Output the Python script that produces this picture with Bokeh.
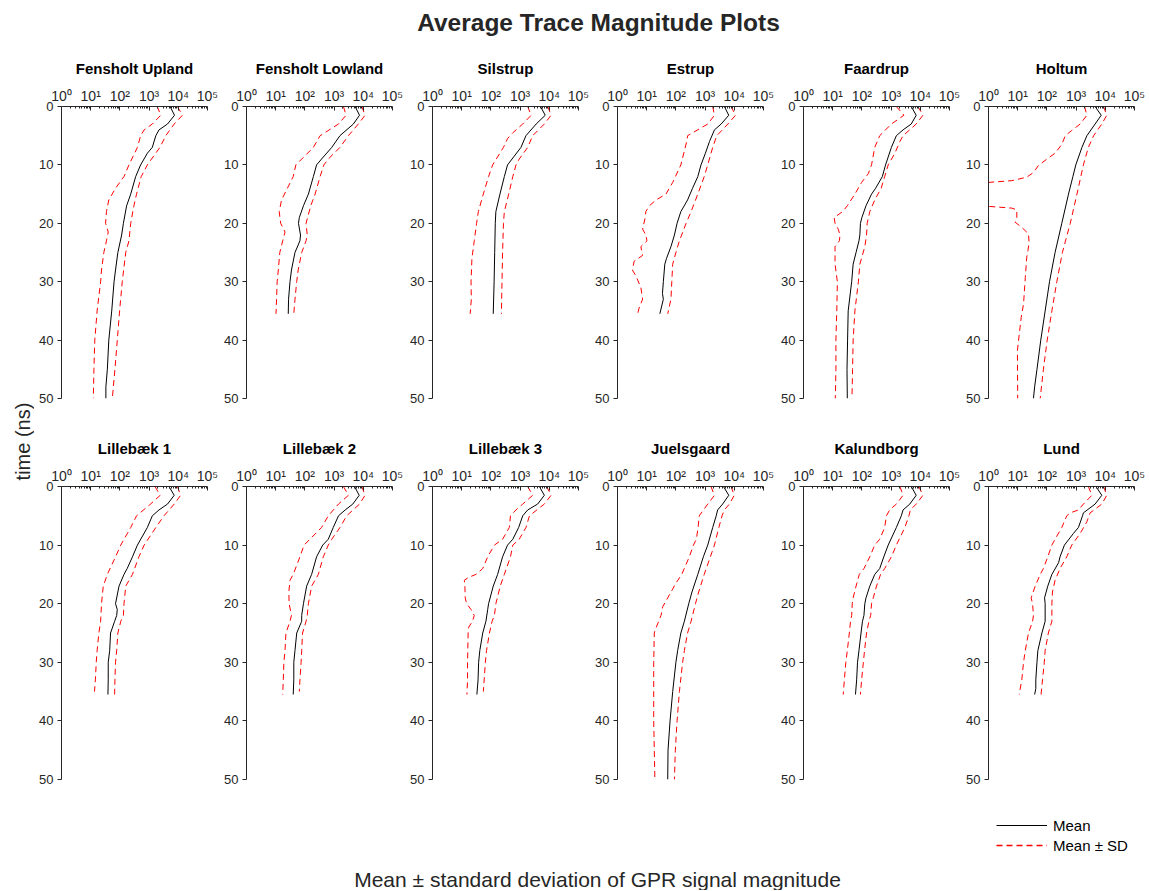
import numpy as np
from bokeh.plotting import figure
from bokeh.layouts import column, row
from bokeh.models import (Range1d, FixedTicker, CustomJSTickFormatter, Label,
                          Legend, LegendItem)
from bokeh.embed import file_html
from bokeh.resources import INLINE
from bokeh.core.validation import silence
from bokeh.core.validation.warnings import MISSING_RENDERERS

silence(MISSING_RENDERERS, True)

# ---------------------------------------------------------------- data
SITES = ["Fensholt Upland", "Fensholt Lowland", "Silstrup", "Estrup", "Faardrup", "Holtum",
         "Lillebæk 1", "Lillebæk 2", "Lillebæk 3", "Juelsgaard", "Kalundborg", "Lund"]

NAN = float("nan")

# time (ns) and log10(magnitude) of the mean curve
MEAN_T = [
    [0, 1.5, 3, 4, 5, 7, 8, 10, 12, 15, 17, 20, 22, 25, 28, 30, 35, 40, 45, 48, 50],
    [0, 1.5, 3, 5, 7, 9, 10, 12, 15, 17, 19, 20, 22, 23, 25, 28, 30, 33, 35.5],
    [0, 1.5, 3, 5, 7, 8.5, 10, 12, 15, 18, 20, 25, 30, 35.5],
    [0, 1.5, 3, 4, 6, 8, 10, 12, 14, 16, 18, 20, 22, 24, 26, 27, 30, 32, 33, 35.5],
    [0, 1.5, 3, 4, 5, 7, 10, 12, 14, 15, 17, 19, 20, 22, 23, 25, 27, 30, 35, 40, 45, 50],
    [0, 1.5, 3, 5, 7, 10, 12, 15, 20, 25, 30, 35, 40, 45, 48, 50],
    [0, 1.5, 3, 4, 5, 7, 10, 12, 14, 15, 17, 20, 21, 22, 23, 25, 28, 30, 33, 35.5],
    [0, 1.5, 3, 4, 5, 7, 9, 10, 12, 15, 17, 20, 22, 23, 25, 28, 30, 33, 35.5],
    [0, 1.5, 3, 4, 5, 7, 9, 10, 12, 15, 17, 20, 21, 23, 25, 28, 30, 33, 35.5],
    [0, 1.5, 3, 4, 5, 7, 10, 12, 15, 18, 20, 23, 25, 28, 30, 35, 40, 45, 50],
    [0, 1.5, 3, 4, 5, 7, 10, 12, 14, 15, 17, 19, 20, 22, 23, 25, 28, 30, 33, 35.5],
    [0, 1.5, 3, 4.5, 5, 7, 8, 10, 12, 13, 15, 17, 19, 20, 23, 25, 28, 30, 33, 34.5, 35.5],
]
MEAN_LOG10 = [
    [3.72, 3.87, 3.63, 3.34, 3.23, 3.11, 2.94, 2.71, 2.54, 2.37, 2.23, 2.12, 2.06, 1.93, 1.85, 1.80, 1.72, 1.62, 1.57, 1.52, 1.52],
    [3.72, 3.87, 3.66, 3.20, 2.92, 2.57, 2.40, 2.29, 2.12, 1.95, 1.81, 1.78, 1.85, 1.83, 1.66, 1.54, 1.49, 1.44, 1.43],
    [3.70, 3.86, 3.55, 3.20, 3.03, 2.80, 2.57, 2.46, 2.31, 2.17, 2.15, 2.13, 2.11, 2.08],
    [3.66, 3.81, 3.55, 3.32, 3.15, 3.01, 2.86, 2.75, 2.57, 2.40, 2.17, 2.04, 1.95, 1.83, 1.68, 1.62, 1.57, 1.54, 1.57, 1.45],
    [3.69, 3.86, 3.69, 3.41, 3.18, 3.01, 2.81, 2.70, 2.47, 2.33, 2.14, 2.00, 1.95, 1.93, 1.90, 1.80, 1.70, 1.65, 1.53, 1.51, 1.49, 1.50],
    [3.65, 3.86, 3.65, 3.37, 3.20, 2.99, 2.89, 2.74, 2.51, 2.28, 2.09, 1.94, 1.79, 1.66, 1.58, 1.54],
    [3.68, 3.86, 3.63, 3.34, 3.11, 2.94, 2.60, 2.43, 2.25, 2.14, 1.97, 1.85, 1.91, 1.89, 1.82, 1.68, 1.65, 1.60, 1.60, 1.59],
    [3.70, 3.86, 3.64, 3.38, 3.15, 2.97, 2.80, 2.61, 2.40, 2.23, 2.06, 1.95, 1.89, 1.89, 1.72, 1.66, 1.62, 1.62, 1.60],
    [3.66, 3.83, 3.60, 3.26, 3.09, 2.95, 2.75, 2.57, 2.40, 2.23, 2.08, 1.92, 1.89, 1.83, 1.72, 1.62, 1.58, 1.56, 1.52],
    [3.63, 3.81, 3.60, 3.43, 3.38, 3.26, 3.09, 2.94, 2.75, 2.55, 2.44, 2.29, 2.17, 2.06, 2.00, 1.89, 1.80, 1.73, 1.72],
    [3.69, 3.86, 3.64, 3.41, 3.35, 3.18, 2.90, 2.75, 2.61, 2.44, 2.27, 2.14, 2.10, 2.07, 2.02, 1.97, 1.90, 1.85, 1.82, 1.78],
    [3.68, 3.88, 3.65, 3.25, 3.22, 3.08, 2.91, 2.60, 2.45, 2.40, 2.17, 2.03, 1.92, 1.94, 1.94, 1.83, 1.69, 1.66, 1.62, 1.62, 1.58],
]

# time (ns) and log10(magnitude) of mean + SD
UPPER_T = [
    [0, 1.5, 3, 5, 7, 10, 12, 15, 17, 20, 23, 25, 30, 35, 40, 45, 50],
    [0, 1.5, 3, 5, 7, 9, 10, 12, 15, 17, 20, 22, 23, 25, 28, 30, 33, 35.5],
    [0, 1.5, 3, 5, 7, 9, 10, 12, 15, 18, 20, 25, 30, 35.5],
    [0, 1.5, 3, 5, 7, 10, 12, 15, 18, 20, 23, 25, 27, 30, 33, 35.5],
    [0, 1.5, 3, 5, 6, 8, 10, 12, 14, 16, 18, 20, 22, 24, 27, 30, 35, 40, 45, 50],
    [0, 1.5, 3, 5, 7, 10, 15, 20, 25, 30, 35, 40, 45, 50],
    [0, 1.5, 3, 5, 7, 10, 12, 15, 17, 20, 22, 23, 25, 28, 30, 33, 35.5],
    [0, 1.5, 3, 5, 7, 9, 10, 12, 15, 17, 20, 22, 23, 25, 28, 30, 33, 35],
    [0, 1.5, 3, 5, 7, 9, 10, 12, 15, 17, 20, 22, 23, 25, 28, 30, 33, 35],
    [0, 1.5, 3, 4, 5, 7, 10, 12, 15, 18, 20, 23, 25, 28, 30, 35, 40, 45, 50],
    [0, 1.5, 3, 4, 5, 7, 10, 12, 14, 15, 17, 19, 20, 22, 23, 25, 28, 30, 33, 35.5],
    [0, 1.5, 3, 4.5, 6, 8, 10, 12, 14, 16, 18, 20, 23, 25, 28, 30, 33, 35.5],
]
UPPER_LOG10 = [
    [3.97, 4.14, 3.86, 3.57, 3.37, 2.94, 2.73, 2.57, 2.48, 2.37, 2.31, 2.20, 2.08, 1.99, 1.91, 1.83, 1.74],
    [3.95, 4.06, 3.83, 3.49, 3.20, 2.80, 2.65, 2.52, 2.35, 2.20, 2.04, 2.08, 2.04, 1.89, 1.77, 1.72, 1.66, 1.62],
    [3.95, 4.06, 3.83, 3.43, 3.26, 2.97, 2.86, 2.75, 2.61, 2.46, 2.43, 2.40, 2.38, 2.36],
    [3.89, 4.04, 3.78, 3.40, 3.26, 3.09, 2.97, 2.75, 2.52, 2.35, 2.12, 2.00, 1.89, 1.86, 1.83, 1.72],
    [3.92, 4.09, 3.86, 3.41, 3.30, 3.13, 2.90, 2.78, 2.66, 2.44, 2.27, 2.18, 2.16, 2.10, 1.93, 1.88, 1.76, 1.70, 1.68, 1.66],
    [3.94, 4.05, 3.88, 3.60, 3.42, 3.25, 3.03, 2.80, 2.53, 2.34, 2.17, 2.01, 1.88, 1.77],
    [3.97, 4.08, 3.86, 3.51, 3.23, 2.83, 2.65, 2.43, 2.20, 2.14, 2.12, 2.03, 1.93, 1.89, 1.85, 1.83, 1.82],
    [3.95, 4.06, 3.87, 3.43, 3.20, 2.92, 2.80, 2.63, 2.46, 2.23, 2.12, 2.08, 2.04, 1.92, 1.89, 1.87, 1.83, 1.81],
    [3.91, 4.06, 3.83, 3.32, 3.20, 2.97, 2.75, 2.67, 2.46, 2.32, 2.17, 2.12, 2.04, 1.95, 1.85, 1.81, 1.77, 1.74],
    [3.89, 4.00, 3.83, 3.66, 3.58, 3.47, 3.32, 3.18, 2.97, 2.78, 2.67, 2.52, 2.40, 2.29, 2.23, 2.12, 2.04, 1.98, 1.95],
    [3.95, 4.09, 3.86, 3.66, 3.61, 3.47, 3.18, 3.01, 2.78, 2.64, 2.50, 2.39, 2.33, 2.30, 2.24, 2.16, 2.09, 2.05, 1.99, 1.95],
    [3.94, 4.05, 3.88, 3.48, 3.37, 3.14, 2.85, 2.68, 2.45, 2.28, 2.19, 2.17, 2.17, 2.05, 1.94, 1.91, 1.85, 1.80],
]

# time (ns) and log10(magnitude) of mean - SD (NaN = mean - SD <= 0)
LOWER_T = [
    [0, 1.5, 3, 4, 5, 7, 10, 12, 14, 16, 18, 20, 21.5, 23, 25, 28, 30, 35, 40, 45, 50],
    [0, 1.5, 3, 5, 7, 9, 10, 12, 14, 16, 18, 20, 21.5, 23, 25, 28, 30, 33, 35.5],
    [0, 1.5, 3, 4.5, 5.5, 7, 10, 12, 15, 18, 20, 23, 26, 30, 33, 35.5],
    [0, 1.5, 3, 5, 6, 10, 13, 15, 16, 17, 18, 19, 21, 22, 23, 24, 25.5, 26.5, 28, 29, 31, 33, 34.5, 35.5],
    [0, 1.5, 3, 5, 7, 10, 11.5, 13, 15, 17, 18, 19, 20, 21, 22, 23, 24, 27, 30, 35, 40, 45, 50],
    [0, 1.5, 3, 4.1, 5, 6.5, 8, 9, 10.1, 11.3, 12.1, 12.7, 13.0, 13.1, 15, 17.0, 17.1, 17.4, 17.7,
     19, 19.8, 20.7, 21.8, 23.3, 24.7, 25.8, 29.3, 33.8, 36.1, 37.8, 41.8, 50],
    [0, 1.5, 3, 5, 7, 10, 12, 15, 17, 20, 23, 25, 28, 30, 33, 35],
    [0, 1.5, 3, 5, 7, 9, 10, 12, 15, 16, 18, 20, 22, 23, 25, 28, 30, 33, 35.5],
    [0, 1.5, 3, 4, 5, 7, 9, 10, 12, 14, 15, 15.5, 16, 17, 19, 20, 21, 22, 23, 24, 25, 30, 33, 35.5],
    [0, 1.5, 3, 5, 7, 9, 10, 12, 15, 16.5, 17.5, 19, 20.5, 22, 24.5, 25, 30, 35, 40, 45, 50],
    [0, 1.5, 3, 4, 5, 7, 9, 10, 12, 14, 15, 17, 19, 20, 22, 23, 25, 28, 30, 33, 35.5],
    [0, 1.5, 3, 4, 4.5, 5, 7, 9, 10, 12, 14, 15, 17, 19, 20, 22, 23, 25, 28, 30, 33, 35.5],
]
LOWER_LOG10 = [
    [3.28, 3.40, 3.11, 2.83, 2.71, 2.60, 2.31, 2.14, 1.85, 1.62, 1.54, 1.51, 1.60, 1.54, 1.45, 1.37, 1.34, 1.22, 1.14, 1.11, 1.09],
    [3.32, 3.41, 3.15, 2.52, 2.29, 1.89, 1.69, 1.60, 1.40, 1.20, 1.12, 1.17, 1.32, 1.24, 1.14, 1.09, 1.05, 1.03, 1.01],
    [3.26, 3.38, 3.09, 2.75, 2.57, 2.43, 2.06, 1.92, 1.74, 1.57, 1.51, 1.43, 1.35, 1.32, 1.33, 1.29],
    [3.26, 3.32, 3.09, 2.40, 2.37, 2.17, 1.89, 1.66, 1.32, 1.09, 0.97, 0.95, 0.86, 0.97, 1.01, 0.80, 0.86, 0.57, 0.51, 0.63, 0.80, 0.86, 0.74, 0.69],
    [3.18, 3.44, 3.01, 2.61, 2.44, 2.33, 2.22, 1.99, 1.76, 1.50, 1.34, 1.05, 1.08, 1.19, 1.25, 1.23, 1.08, 1.08, 1.16, 1.14, 1.11, 1.11, 1.09],
    [3.29, 3.37, 3.14, 2.85, 2.63, 2.51, 2.28, 2.00, 1.71, 1.54, 1.31, 0.80, 0.0, -1.0, NAN, -1.0, 0.0, 0.80, 0.97,
     0.97, 0.91, 1.14, 1.37, 1.39, 1.35, 1.31, 1.26, 1.20, 1.12, 1.08, 0.99, 1.00],
    [3.20, 3.38, 3.05, 2.57, 2.37, 2.03, 1.85, 1.57, 1.43, 1.37, 1.34, 1.28, 1.22, 1.19, 1.16, 1.13],
    [3.32, 3.49, 3.15, 2.80, 2.57, 2.17, 1.97, 1.83, 1.60, 1.49, 1.45, 1.46, 1.54, 1.49, 1.35, 1.32, 1.28, 1.26, 1.24],
    [3.26, 3.43, 3.09, 2.86, 2.67, 2.63, 2.40, 2.12, 1.89, 1.72, 1.49, 1.24, 1.09, 1.11, 1.12, 1.17, 1.32, 1.43, 1.37, 1.24, 1.22, 1.20, 1.20, 1.18],
    [3.20, 3.32, 3.09, 2.80, 2.76, 2.70, 2.60, 2.46, 2.20, 2.00, 1.89, 1.72, 1.55, 1.49, 1.29, 1.26, 1.24, 1.24, 1.24, 1.26, 1.28],
    [3.30, 3.41, 3.18, 2.95, 2.84, 2.78, 2.61, 2.44, 2.27, 2.07, 1.91, 1.80, 1.70, 1.67, 1.65, 1.61, 1.57, 1.50, 1.45, 1.40, 1.36],
    [3.42, 3.54, 3.25, 3.08, 2.80, 2.68, 2.51, 2.28, 2.17, 2.03, 1.88, 1.77, 1.60, 1.46, 1.51, 1.54, 1.51, 1.37, 1.26, 1.20, 1.14, 1.05],
]

X_TICKS = [1, 10, 100, 1000, 10000, 100000]
Y_TICKS = [0, 10, 20, 30, 40, 50]

TITLE = "Average Trace Magnitude Plots"
Y_LABEL = "time (ns)"
X_LABEL = "Mean \u00b1 standard deviation of GPR signal magnitude"
LEGEND_LABELS = ["Mean", "Mean \u00b1 SD"]

# ---------------------------------------------------------------- style
FONT = "Liberation Sans"
TXT = "#262626"
RED = "#ff0000"
DASH = "6 4"

COL_W = [185, 186, 185, 186, 185, 185]
FRAME_W = 146
LEFT_B = 27
TOP_B = 61
TOP_H = 45
ROW_H = [380, 375]
FRAME_H = [292, 293]
BOT_H = 90
YLAB_W = 34
TOTAL_W = YLAB_W + sum(COL_W)

minor = [k * 10 ** n for n in range(0, 5) for k in range(2, 10)]
fmt = CustomJSTickFormatter(code="""
const sup = ["\\u2070","\\u00b9","\\u00b2","\\u00b3","\\u2074","\\u2075","\\u2076","\\u2077","\\u2078","\\u2079"];
const e = Math.round(Math.log10(tick));
return "10" + String(e).split("").map(c => (c == "-" ? "\\u207b" : sup[+c])).join("");
""")


def blank(w, h):
    f = figure(width=w, height=h, x_range=Range1d(0, 1), y_range=Range1d(0, 1),
               x_axis_location=None, y_axis_location=None,
               toolbar_location=None, output_backend="svg",
               min_border=0, outline_line_color=None)
    f.grid.visible = False
    return f


def panel(i, w, r):
    p = figure(width=w, height=ROW_H[r], x_axis_type="log",
               x_range=Range1d(1, 1e5), y_range=Range1d(50, 0),
               x_axis_location="above", toolbar_location=None, output_backend="svg",
               min_border_left=LEFT_B, min_border_right=w - FRAME_W - LEFT_B,
               min_border_top=TOP_B, min_border_bottom=ROW_H[r] - TOP_B - FRAME_H[r],
               outline_line_color=None)
    p.grid.visible = False
    p.title.text = SITES[i]
    p.title.align = "center"
    p.title.text_font = FONT
    p.title.text_font_style = "bold"
    p.title.text_font_size = "15px"
    p.title.text_color = "#000000"
    p.title.standoff = 16

    xa = p.xaxis[0]
    xa.ticker = FixedTicker(ticks=X_TICKS, minor_ticks=minor)
    xa.formatter = fmt
    xa.major_tick_in = 4
    xa.major_tick_out = 0
    xa.minor_tick_in = 2
    xa.minor_tick_out = 0
    xa.major_label_standoff = 3
    ya = p.yaxis[0]
    ya.ticker = FixedTicker(ticks=Y_TICKS)
    ya.major_tick_in = 0
    ya.major_tick_out = 4
    ya.minor_tick_in = 0
    ya.minor_tick_out = 0
    ya.major_label_standoff = 4
    for ax in (xa, ya):
        ax.axis_line_color = TXT
        ax.major_tick_line_color = TXT
        ax.minor_tick_line_color = TXT
        ax.major_label_text_font = FONT
        ax.major_label_text_color = TXT
    xa.major_label_text_font_size = "14px"
    ya.major_label_text_font_size = "13px"

    p.line(x=10 ** np.array(UPPER_LOG10[i]), y=UPPER_T[i], line_color=RED,
           line_width=1, line_dash=DASH)
    p.line(x=10 ** np.array(LOWER_LOG10[i]), y=LOWER_T[i], line_color=RED,
           line_width=1, line_dash=DASH)
    p.line(x=10 ** np.array(MEAN_LOG10[i]), y=MEAN_T[i], line_color="black",
           line_width=1)
    return p


rows = []
for r in range(2):
    rows.append(row(*[panel(r * 6 + c, COL_W[c], r) for c in range(6)]))
grid = column(*rows)

# title strip
top = blank(TOTAL_W, TOP_H)
top.add_layout(Label(x=598, y=TOP_H - 22, x_units="screen", y_units="screen", text=TITLE,
                     text_align="center", text_baseline="middle", text_font=FONT,
                     text_font_style="bold", text_font_size="24.5px", text_color=TXT))

# y label strip
left = blank(YLAB_W, sum(ROW_H))
left.add_layout(Label(x=22, y=sum(ROW_H) - (441 - TOP_H), x_units="screen", y_units="screen",
                      text=Y_LABEL, angle=np.pi / 2, text_align="center",
                      text_baseline="middle", text_font=FONT, text_font_size="20px",
                      text_color=TXT))

# bottom strip: legend + x label (legend renderers carry no visible data)
bot = blank(TOTAL_W, BOT_H)
r_mean = bot.line(x=[NAN, NAN], y=[NAN, NAN], line_color="black", line_width=1)
r_sd = bot.line(x=[NAN, NAN], y=[NAN, NAN], line_color=RED, line_width=1.3,
                line_dash=DASH, line_alpha=1.0)
leg = Legend(items=[LegendItem(label=LEGEND_LABELS[0], renderers=[r_mean]),
                    LegendItem(label=LEGEND_LABELS[1], renderers=[r_sd])],
             location=(996, 35), padding=0, margin=0, spacing=0,
             glyph_width=51, glyph_height=20, label_height=20, label_standoff=6,
             border_line_color=None, background_fill_alpha=0,
             label_text_font=FONT, label_text_font_size="15px", label_text_color="#000000")
bot.add_layout(leg)
bot.add_layout(Label(x=597, y=11, x_units="screen", y_units="screen", text=X_LABEL,
                     text_align="center", text_baseline="alphabetic", text_font=FONT,
                     text_font_size="21px", text_color=TXT))

layout = column(top, row(left, grid), bot)

with open("out.html", "w", encoding="utf-8") as fh:
    fh.write(file_html(layout, INLINE))
